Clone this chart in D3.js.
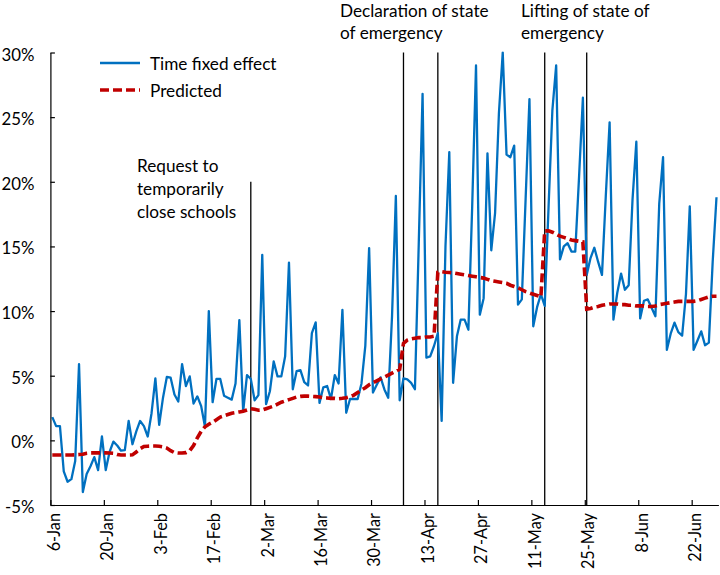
<!DOCTYPE html>
<html><head><meta charset="utf-8">
<script src="https://cdn.jsdelivr.net/npm/d3@7"></script>
<style>
html,body{margin:0;padding:0;background:#fff;}
svg{display:block;font-family:Lato,"Open Sans",sans-serif;}
</style></head><body>
<svg id="chart" width="720" height="575"></svg>
<script>
// ---------------- data ----------------
const startDate = "2020-01-06";   // first daily observation
const timeFixedEffect = [
  1.8, 1.1, 1.1, -2.4, -3.2, -3.0, -1.6, 5.9, -4.0, -2.6,
  -2.0, -1.3, -2.3, 0.3, -2.3, -0.9, -0.1, -0.4, -0.8, -0.75,
  1.5, -0.3, 0.7, 1.5, 1.1, 0.3, 2.1, 4.8, 1.2, 3.3,
  4.9, 4.85, 3.55, 3.0, 5.9, 4.2, 4.95, 2.85, 3.4, 2.65,
  1.05, 10.0, 2.95, 4.75, 4.75, 3.45, 3.3, 3.15, 4.4, 9.3,
  2.25, 5.05, 4.75, 3.1, 3.5, 14.35, 2.8, 3.8, 6.1, 4.95,
  4.95, 6.5, 13.75, 3.95, 5.35, 5.43, 4.5, 4.25, 8.3, 9.13,
  2.9, 4.1, 4.2, 3.2, 5.05, 4.4, 10.1, 2.13, 3.2, 3.2,
  3.2, 4.4, 7.3, 14.87, 3.7, 4.3, 4.87, 3.94, 3.29, 9.6,
  18.9, 3.1, 4.8, 4.72, 4.45, 3.95, 15.2, 26.8, 6.4, 6.5,
  7.3, 8.3, 1.5, 15.0, 22.3, 4.45, 8.05, 9.34, 9.34, 8.56,
  18.1, 29.0, 9.72, 11.0, 22.2, 14.7, 17.6, 25.3, 30.0, 22.1,
  21.9, 22.8, 10.5, 10.9, 18.7, 26.4, 8.82, 10.3, 11.3, 10.4,
  18.0, 25.5, 29.0, 14.0, 15.0, 15.25, 14.6, 14.6, 20.4, 26.5,
  12.8, 14.1, 14.9, 13.8, 12.8, 18.9, 24.6, 9.34, 11.4, 12.9,
  11.65, 12.0, 18.6, 23.1, 9.43, 10.8, 10.9, 10.25, 9.6, 18.3,
  21.9, 7.0, 8.25, 9.1, 8.37, 8.1, 11.3, 18.1, 7.0, 7.7,
  8.43, 7.36, 7.56, 13.8, 18.8
];
const predicted = [
  -1.13, -1.13, -1.13, -1.13, -1.13, -1.13, -1.12, -1.1, -1.08, -1.0,
  -0.97, -0.97, -0.97, -0.97, -0.97, -0.98, -1.0, -1.1, -1.13, -1.13,
  -1.13, -1.12, -0.9, -0.65, -0.48, -0.45, -0.44, -0.44, -0.45, -0.5,
  -0.6, -0.8, -0.95, -0.98, -0.98, -0.95, -0.8, -0.4, 0.2, 0.7,
  1.05, 1.25, 1.4, 1.6, 1.8, 1.9, 2.0, 2.1, 2.15, 2.2,
  2.25, 2.35, 2.45, 2.4, 2.33, 2.35, 2.45, 2.55, 2.65, 2.8,
  2.95, 3.05, 3.15, 3.25, 3.35, 3.4, 3.42, 3.42, 3.4, 3.38,
  3.35, 3.3, 3.28, 3.25, 3.25, 3.22, 3.25, 3.3, 3.38, 3.5,
  3.7, 3.9, 4.07, 4.3, 4.45, 4.6, 4.75, 4.9, 5.05, 5.2,
  5.35, 5.5, 7.5, 7.75, 7.85, 7.9, 7.95, 7.95, 8.0, 8.0,
  8.05, 13.0, 13.05, 13.0, 12.98, 12.95, 12.9, 12.85, 12.8, 12.75,
  12.7, 12.65, 12.6, 12.55, 12.45, 12.35, 12.3, 12.25, 12.2, 12.15,
  12.0, 11.9, 11.8, 11.65, 11.5, 11.4, 11.3, 11.2, 11.1, 16.2,
  16.2, 16.1, 15.95, 15.8, 15.7, 15.6, 15.5, 15.45, 15.4, 15.35,
  10.15, 10.2, 10.3, 10.35, 10.45, 10.5, 10.55, 10.55, 10.55, 10.5,
  10.5, 10.45, 10.45, 10.4, 10.4, 10.4, 10.35, 10.35, 10.4, 10.5,
  10.55, 10.6, 10.65, 10.7, 10.75, 10.75, 10.75, 10.75, 10.75, 10.8,
  10.9, 11.0, 11.1, 11.15, 11.15
];
const tickDates = ["2020-01-06","2020-01-20","2020-02-03","2020-02-17","2020-03-02",
  "2020-03-16","2020-03-30","2020-04-13","2020-04-27","2020-05-11","2020-05-25",
  "2020-06-08","2020-06-22"];
const yTicks = [-5, 0, 5, 10, 15, 20, 25, 30];
const eventDates = ["2020-02-27","2020-04-07","2020-04-16","2020-05-14","2020-05-25"];
const eventTops = [20, 30, 30, 30, 30];
const seriesNames = ["Time fixed effect", "Predicted"];
const noteSchools = ["Request to", "temporarily", "close schools"];
const noteDeclare = ["Declaration of state", "of emergency"];
const noteLift = ["Lifting of state of", "emergency"];

// ---------------- chart ----------------
(function () {
const parse = d3.utcParse("%Y-%m-%d");
const start = parse(startDate);
const dayOf = i => d3.utcDay.offset(start, i);
const half = 12 * 3600 * 1000;
const nDays = timeFixedEffect.length;

const svg = d3.select("#chart");
const pL = 50.4, pR = 718.4, pT = 52.5, pB = 505;
const x = d3.scaleUtc()
  .domain([new Date(+start - half), new Date(+dayOf(nDays - 1) + half)])
  .range([pL, pR]);
const y = d3.scaleLinear().domain([-5, 30]).range([pB, pT]);

const FS = 16.3;     // axis labels
const FN = 17.2;     // legend and notes
const textColor = "#000";

svg.append("defs").append("clipPath").attr("id", "plotclip")
  .append("rect").attr("x", pL).attr("y", pT - 1)
  .attr("width", pR - pL + 2).attr("height", pB - pT + 1);

// event lines
svg.append("g").selectAll("line").data(eventDates).join("line")
  .attr("x1", d => x(parse(d))).attr("x2", d => x(parse(d)))
  .attr("y1", (d, i) => y(eventTops[i])).attr("y2", pB)
  .attr("stroke", "#000").attr("stroke-width", 1.3);

// series
const line = d3.line().x((d, i) => x(dayOf(i))).y(d => y(d));
const plot = svg.append("g").attr("clip-path", "url(#plotclip)");
plot.append("path").datum(timeFixedEffect).attr("d", line)
  .attr("fill", "none").attr("stroke", "#0070C0").attr("stroke-width", 2.3)
  .attr("stroke-linejoin", "round");
plot.append("path").datum(predicted).attr("d", line)
  .attr("fill", "none").attr("stroke", "#C00000").attr("stroke-width", 3.6)
  .attr("stroke-dasharray", "9 4");

// y axis
const yAxis = svg.append("g").attr("transform", `translate(${pL},0)`)
  .call(d3.axisLeft(y).tickValues(yTicks).tickSize(-4.5).tickSizeOuter(0)
    .tickPadding(16).tickFormat(d => d + "%"));
yAxis.select(".domain").attr("stroke", "#000").attr("stroke-width", 1.2);
yAxis.selectAll(".tick line").attr("stroke", "#000").attr("stroke-width", 1.2);
yAxis.selectAll(".tick text").attr("font-size", FS + 0.5).attr("font-family", "Lato")
  .attr("fill", textColor).attr("dy", "0.45em");

// x axis
const xAxis = svg.append("g").attr("transform", `translate(0,${pB})`)
  .call(d3.axisBottom(x).tickValues(tickDates.map(d => new Date(+parse(d) - half)))
    .tickSize(-5).tickSizeOuter(0).tickFormat(""));
xAxis.select(".domain").attr("stroke", "#000").attr("stroke-width", 1.2);
xAxis.selectAll(".tick line").attr("stroke", "#000").attr("stroke-width", 1.2);
const fmt = d3.utcFormat("%-d-%b");
svg.append("g").selectAll("text").data(tickDates).join("text")
  .attr("transform", d => `translate(${x(parse(d)) + 1},${pB + 8}) rotate(-90)`)
  .attr("text-anchor", "end").attr("dominant-baseline", "central")
  .attr("font-size", FS).attr("fill", textColor)
  .text(d => fmt(parse(d)));

// legend
const legend = svg.append("g");
legend.append("line").attr("x1", 100).attr("x2", 140).attr("y1", 63).attr("y2", 63)
  .attr("stroke", "#0070C0").attr("stroke-width", 2.3);
legend.append("line").attr("x1", 100).attr("x2", 140).attr("y1", 90).attr("y2", 90)
  .attr("stroke", "#C00000").attr("stroke-width", 3.6).attr("stroke-dasharray", "9 4");
legend.selectAll("text").data(seriesNames).join("text")
  .attr("x", 150).attr("y", (d, i) => 63 + i * 27)
  .attr("dominant-baseline", "central").attr("font-size", FN).attr("fill", textColor)
  .text(d => d);

// annotations
function note(lines, x0, y0, lh) {
  svg.append("g").selectAll("text").data(lines).join("text")
    .attr("x", x0).attr("y", (d, i) => y0 + i * lh)
    .attr("dominant-baseline", "central").attr("font-size", FN).attr("fill", textColor)
    .text(d => d);
}
note(noteSchools, 137, 165, 23);
note(noteDeclare, 340, 10, 22);
note(noteLift, 521, 10, 22);
})();
</script>
</body></html>
